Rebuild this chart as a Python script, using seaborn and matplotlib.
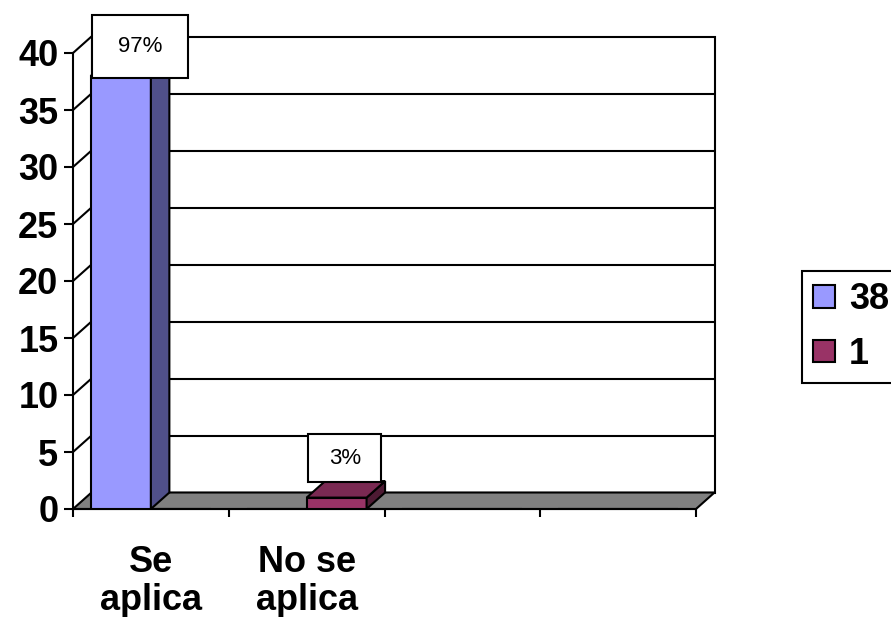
import matplotlib
matplotlib.use("Agg")
import matplotlib.pyplot as plt
import matplotlib.patches as mpatches
import matplotlib.transforms as mtransforms
import pandas as pd
import seaborn as sns

# ---- data -------------------------------------------------------------
categorias = ["Se\naplica", "No se\naplica", "", " "]
series = ["38", "1"]
valores_38 = [38, 0, 0, 0]
valores_1 = [0, 1, 0, 0]
y_ticks = [0, 5, 10, 15, 20, 25, 30, 35, 40]

# ---- styles -----------------------------------------------------------
colores_frente = ["#9999ff", "#993366"]
colores_lado = ["#50508a", "#4d1a33"]
colores_techo = ["#7c7cd0", "#7a2952"]
# data-label boxes: (width px, height px, dx px, dy px from the bar top)
cajas_etiqueta = [(96, 63, 10, 13), (73, 48, -1, 23)]

df = pd.DataFrame({
    "categoria": categorias * len(series),
    "serie": [series[0]] * len(categorias) + [series[1]] * len(categorias),
    "valor": valores_38 + valores_1,
})

sns.set_style("white")
plt.rcParams["font.family"] = ["Liberation Sans", "DejaVu Sans"]
plt.rcParams["text.color"] = "black"
plt.rcParams["xtick.color"] = "black"
plt.rcParams["ytick.color"] = "black"

W, H = 891, 617
fig = plt.figure(figsize=(W / 100, H / 100), dpi=100)

# front plane of the 3-D box, in figure pixels
left_px, right_px, base_px, top_px = 73, 696, 509, 53
ax = fig.add_axes([left_px / W, 1 - base_px / H,
                   (right_px - left_px) / W, (base_px - top_px) / H])

sns.barplot(data=df, x="categoria", y="valor", hue="serie",
            order=categorias, hue_order=series, palette=colores_frente,
            saturation=1, width=0.77, errorbar=None, legend=False,
            edgecolor="black", linewidth=1.5, zorder=4, ax=ax)
barras = list(ax.patches)

ax.set_xlim(-0.5, len(categorias) - 0.5)
ax.set_ylim(y_ticks[0], y_ticks[-1])
ax.set_xlabel("")
ax.set_ylabel("")

# depth of the box expressed in data units
DX_PX, DY_PX = 18.5, 16.5
ancho_px = right_px - left_px
alto_px = base_px - top_px
dx = DX_PX * len(categorias) / ancho_px
dy = DY_PX * (y_ticks[-1] - y_ticks[0]) / alto_px
x0, x1 = -0.5, len(categorias) - 0.5
ymax = y_ticks[-1]

lw = 1.5
# back wall
ax.add_patch(mpatches.Rectangle((x0 + dx, dy), x1 - x0, ymax, facecolor="white",
                                edgecolor="black", linewidth=lw, clip_on=False,
                                zorder=0.5))
# gridlines on the back wall
for v in y_ticks[1:-1]:
    ax.plot([x0 + dx, x1 + dx], [v + dy, v + dy], color="black", lw=lw,
            clip_on=False, zorder=1)
# gridlines on the left side wall
for v in y_ticks[1:]:
    ax.plot([x0, x0 + dx], [v, v + dy], color="black", lw=lw,
            clip_on=False, zorder=1)
# floor
ax.add_patch(mpatches.Polygon([(x0, 0), (x1, 0), (x1 + dx, dy), (x0 + dx, dy)],
                              closed=True, facecolor="#808080", edgecolor="black",
                              linewidth=lw, clip_on=False, zorder=2))

# side and top faces of each bar
n_cat = len(categorias)
for i, p in enumerate(barras):
    h = p.get_height()
    if h <= 0:
        continue
    s = i // n_cat
    bx0, bx1 = p.get_x(), p.get_x() + p.get_width()
    ax.add_patch(mpatches.Polygon([(bx1, 0), (bx1 + dx, dy), (bx1 + dx, h + dy), (bx1, h)],
                                  closed=True, facecolor=colores_lado[s],
                                  edgecolor="black", linewidth=lw, clip_on=False,
                                  zorder=4.2))
    ax.add_patch(mpatches.Polygon([(bx0, h), (bx1, h), (bx1 + dx, h + dy), (bx0 + dx, h + dy)],
                                  closed=True, facecolor=colores_techo[s],
                                  edgecolor="black", linewidth=lw, clip_on=False,
                                  zorder=4.2))

# percentage labels
total = sum(valores_38) + sum(valores_1)
k = 0
for i, p in enumerate(barras):
    h = p.get_height()
    if h <= 0:
        continue
    bw, bh, ox, oy = cajas_etiqueta[k]
    k += 1
    cx, cy = ax.transData.transform((p.get_x() + p.get_width() / 2 + dx / 2, h + dy))
    cx += ox
    cy += oy
    fig.add_artist(mpatches.Rectangle((cx - bw / 2, cy - bh / 2), bw, bh,
                                      facecolor="white", edgecolor="black",
                                      linewidth=lw,
                                      transform=mtransforms.IdentityTransform(),
                                      zorder=6))
    fig.text(cx / W, cy / H, f"{round(h / total * 100)}%", ha="center",
             va="center", fontsize=16, color="black", zorder=7)

# axes
for side in ["top", "right"]:
    ax.spines[side].set_visible(False)
for side in ["left", "bottom"]:
    ax.spines[side].set_color("black")
    ax.spines[side].set_linewidth(lw)
    ax.spines[side].set_zorder(3)

ax.set_yticks(y_ticks)
ax.set_yticklabels([str(t) for t in y_ticks], fontsize=26, fontweight="bold",
                   color="black")
ax.tick_params(axis="y", left=True, length=6.5, width=lw, pad=4, color="black")

ax.set_xticks([x0 + j for j in range(n_cat + 1)])
ax.set_xticklabels([""] * (n_cat + 1))
ax.set_xticks(list(range(n_cat)), minor=True)
ax.set_xticklabels(categorias, minor=True, fontsize=26, fontweight="bold",
                   linespacing=1.1, color="black")
ax.tick_params(axis="x", which="major", bottom=True, length=6, width=lw,
               color="black")
ax.tick_params(axis="x", which="minor", bottom=True, length=0, pad=26)

# legend
handles = [mpatches.Patch(facecolor=c, edgecolor="black", linewidth=lw)
           for c in colores_frente]
leg = fig.legend(handles, series, loc="upper left",
                 bbox_to_anchor=(802 / W, 1 - 271 / H), borderaxespad=0,
                 frameon=True, fancybox=False, framealpha=1, edgecolor="black",
                 prop={"size": 26, "weight": "bold"}, handlelength=0.6,
                 handleheight=0.6, handletextpad=0.4, borderpad=0.3,
                 labelspacing=0.55)
for t in leg.get_texts():
    t.set_color("black")
leg.get_frame().set_linewidth(lw)

fig.savefig("out.png", dpi=100)
